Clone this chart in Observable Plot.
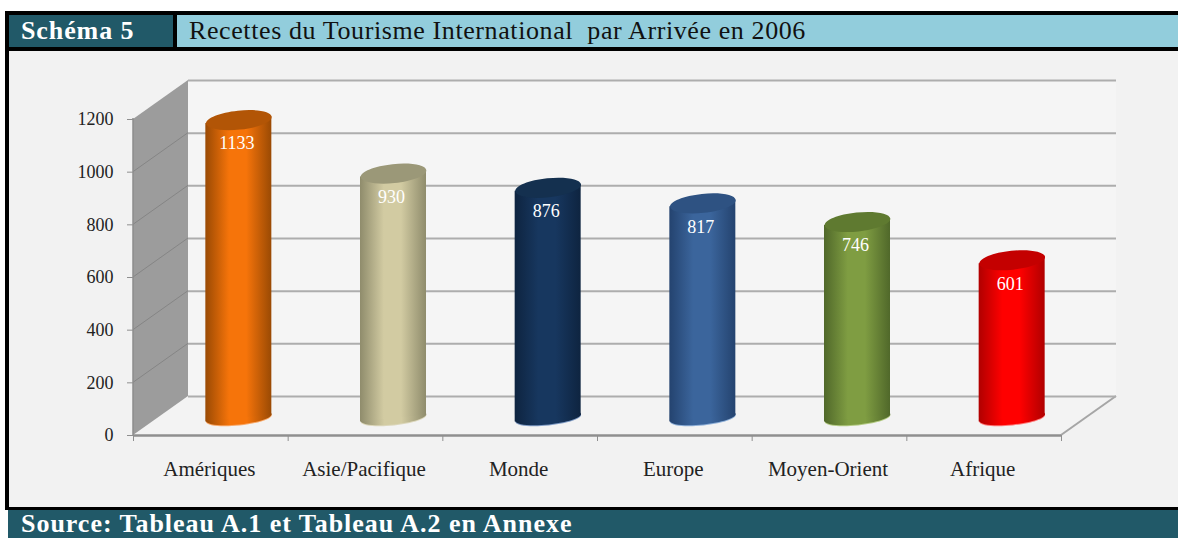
<!DOCTYPE html>
<html lang="fr">
<head>
<meta charset="utf-8">
<script src="https://cdn.jsdelivr.net/npm/d3@7"></script>
<script src="https://cdn.jsdelivr.net/npm/@observablehq/plot@0.6"></script>
<style>
html,body{margin:0;padding:0;background:#fff;overflow:hidden}
#page{position:relative;width:1178px;height:538px;font-family:"Liberation Serif",serif}
.box{position:absolute;white-space:pre;box-sizing:border-box}
#chart{position:absolute;left:9px;top:51px;width:1169px;height:456px;background:#f2f2f2}
#chart svg{display:block;overflow:visible}
</style>
</head>
<body>
<div id="page">
  <div class="box" style="left:5px;top:11px;width:1173px;height:499px;background:#000"></div>
  <div class="box" style="left:9px;top:15px;width:164px;height:32px;background:#215968;color:#fff;font-weight:bold;font-size:26px;line-height:32px;padding-left:12px;letter-spacing:.9px">Schéma 5</div>
  <div class="box" style="left:177px;top:15px;width:1001px;height:32px;background:#92cddc;color:#111;font-size:26px;line-height:32px;padding-left:12px;letter-spacing:.6px">Recettes du Tourisme International  par Arrivée en 2006</div>
  <div id="chart"></div>
  <div class="box" style="left:8px;top:510px;width:1170px;height:28px;background:#215968;color:#fff;font-weight:bold;font-size:26px;line-height:28px;padding-left:13px;letter-spacing:.97px">Source: Tableau A.1 et Tableau A.2 en Annexe</div>
</div>
<script>
const categories = ["Amériques", "Asie/Pacifique", "Monde", "Europe", "Moyen-Orient", "Afrique"];
const receipts = [1133, 930, 876, 817, 746, 601];
const yTicks = [0, 200, 400, 600, 800, 1000, 1200];
const edgeColors = ["#9a4a04", "#8f8c6c", "#0e2440", "#24436f", "#50682a", "#b00000"];
const midColors = ["#f6740a", "#d2cba2", "#17375f", "#3b659c", "#7f9d42", "#ff0000"];
const capColors = ["#b25506", "#9b9878", "#14304f", "#2e5282", "#5f7a30", "#c40000"];
const rimColors = ["#f9a868", "#dcd7bb", "#7f9bc4", "#8fb0d8", "#b4cb84", "#ff7a7a"];

const rows = categories.map((category, i) => ({category, value: receipts[i], i}));
const depthX = 55, depthY = -39, barX = 28, barY = -17;
const rx = 33, tilt = -6 * Math.PI / 180;

const ellipseOf = ry => ({
  draw(ctx) {
    const k = 0.5523, c = Math.cos(tilt), s = Math.sin(tilt);
    const p = (u, v) => [u * c - v * s, u * s + v * c];
    const B = (a, b, d) => ctx.bezierCurveTo(...p(...a), ...p(...b), ...p(...d));
    ctx.moveTo(...p(rx, 0));
    B([rx, k * ry], [k * rx, ry], [0, ry]);
    B([-k * rx, ry], [-rx, k * ry], [-rx, 0]);
    B([-rx, -k * ry], [-k * rx, -ry], [0, -ry]);
    B([k * rx, -ry], [rx, -k * ry], [rx, 0]);
    ctx.closePath();
  }
});
const capShape = ellipseOf(9.5), baseShape = ellipseOf(7);

const svgEl = (name, attrs, parent) => {
  const e = document.createElementNS("http://www.w3.org/2000/svg", name);
  for (const k in attrs) e.setAttribute(k, attrs[k]);
  if (parent) parent.appendChild(e);
  return e;
};

// Gradients for the cylinder bodies
const gradients = () => {
  const defs = svgEl("defs", {});
  categories.forEach((c, i) => {
    const g = svgEl("linearGradient", {id: "cyl" + i, x1: 0, x2: 1, y1: 0, y2: 0}, defs);
    [[0, edgeColors[i]], [.36, midColors[i]], [.62, midColors[i]], [1, edgeColors[i]]].forEach(([o, col]) =>
      svgEl("stop", {offset: o, "stop-color": col}, g));
  });
  return defs;
};

// Walls and floor of the 3D box, placed from the chart's own scales
const walls = (index, {x, y}, values, dims) => {
  const g = svgEl("g", {});
  const l = dims.marginLeft, r = dims.width - dims.marginRight;
  const y0 = y(yTicks[0]), yT = y(yTicks[yTicks.length - 1]);
  svgEl("rect", {x: l + depthX, y: yT + depthY, width: r - l, height: y0 - yT, fill: "#f5f5f5"}, g);
  svgEl("polygon", {points: `${l},${y0} ${l + depthX},${y0 + depthY} ${r + depthX},${y0 + depthY} ${r},${y0}`, fill: "#f3f3f3"}, g);
  svgEl("polygon", {points: `${l},${y0} ${l + depthX},${y0 + depthY} ${l + depthX},${yT + depthY} ${l},${yT}`, fill: "#9c9c9c"}, g);
  for (const t of yTicks.slice(1, -1))
    svgEl("line", {x1: l, y1: y(t), x2: l + depthX, y2: y(t) + depthY, stroke: "#858585", "stroke-width": 1}, g);
  svgEl("line", {x1: r, y1: y0, x2: r + depthX, y2: y0 + depthY, stroke: "#a6a6a6", "stroke-width": 2}, g);
  svgEl("line", {x1: l, y1: yT - 1, x2: l, y2: y0 + 1, stroke: "#8c8c8c", "stroke-width": 1.5}, g);
  return g;
};

const skewed = (index, scales, values, dims, context, next) => {
  const g = next(index, scales, values, dims, context);
  g.querySelectorAll("rect").forEach(b => {
    b.style.transformBox = "fill-box";
    b.style.transformOrigin = "center";
    b.style.transform = "skewY(-6deg)";
  });
  return g;
};

const bandStep = (1178 - 133 - 117) / categories.length;

const chart = Plot.plot({
  width: 1169,
  height: 456,
  marginLeft: 124,
  marginRight: 117,
  marginTop: 68,
  marginBottom: 72,
  style: {fontFamily: "'Liberation Serif', serif", background: "transparent", color: "#222"},
  x: {type: "band", domain: categories, padding: 0, round: false, label: null},
  y: {domain: [0, 1200], label: null},
  color: {type: "identity"},
  marks: [
    gradients,
    walls,
    Plot.ruleY(yTicks, {y: d => d, dx: depthX, dy: depthY, stroke: "#adadad", strokeWidth: 2}),
    Plot.ruleY([0], {stroke: "#8f8f8f", strokeWidth: 2.5}),
    Plot.ruleX(categories, {x: d => d, y1: 0, y2: 0, dx: -bandStep / 2, insetBottom: -6, stroke: "#8f8f8f"}),
    Plot.ruleX(categories.slice(-1), {x: d => d, y1: 0, y2: 0, dx: bandStep / 2, insetBottom: -6, stroke: "#8f8f8f"}),
    Plot.axisY({ticks: yTicks, tickSize: 6, tickPadding: 14, fontSize: 18, stroke: "#8f8f8f", label: null, tickFormat: d => String(d)}),
    Plot.axisX({tickSize: 0, tickPadding: 26, fontSize: 21, dx: -1.5, label: null, style: {letterSpacing: "1.55px"}}),
    Plot.dot(rows, {x: "category", y: () => 0, dx: barX, dy: barY, symbol: baseShape, fill: d => rimColors[d.i]}),
    Plot.dot(rows, {x: "category", y: () => 0, dx: barX, dy: barY - 1, symbol: baseShape, fill: d => `url(#cyl${d.i})`}),
    Plot.barY(rows, {x: "category", y: "value", dx: barX, dy: barY, insetLeft: bandStep / 2 - rx, insetRight: bandStep / 2 - rx, fill: d => `url(#cyl${d.i})`, render: skewed}),
    Plot.dot(rows, {x: "category", y: "value", dx: barX, dy: barY, symbol: capShape, fill: d => capColors[d.i]}),
    Plot.text(rows, {x: "category", y: "value", text: d => String(d.value), dx: barX - 2, dy: 6.5, fill: "#fff", fontSize: 18})
  ]
});
document.getElementById("chart").appendChild(chart);
</script>
</body>
</html>
